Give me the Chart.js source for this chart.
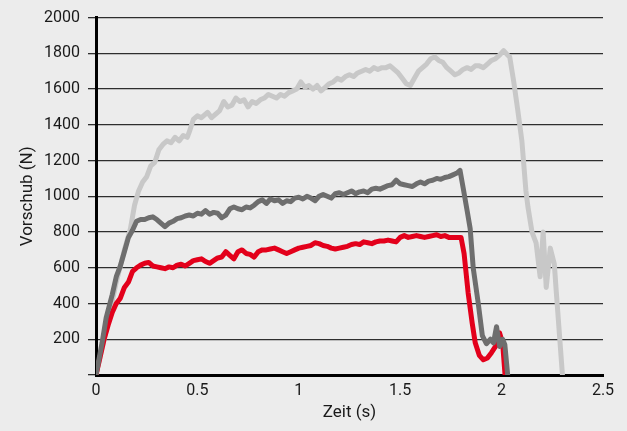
<!DOCTYPE html>
<html>
<head>
<meta charset="utf-8">
<script src="https://cdn.jsdelivr.net/npm/chart.js@4"></script>
<style>
    html, body { margin: 0; padding: 0; background: #ececec; }
    canvas { display: block; }
</style>
</head>
<body>
<canvas id="feedChart" width="627" height="431"></canvas>
<script>
// ── Data (Zeit in s, Vorschub in N) ──

const xTicks = [0, 0.5, 1, 1.5, 2, 2.5];

const lightTime = [
    0, 0.05, 0.10, 0.14, 0.17, 0.19, 0.21, 0.23, 0.25, 0.27, 0.29, 0.31, 0.33, 0.35, 0.37, 0.39,
    0.41, 0.43, 0.45, 0.46, 0.48, 0.50, 0.52, 0.55, 0.57, 0.59, 0.61, 0.63, 0.65, 0.67, 0.69, 0.71,
    0.73, 0.75, 0.77, 0.79, 0.81, 0.83, 0.85, 0.87, 0.89, 0.91, 0.93, 0.95, 0.97, 0.99, 1.01, 1.03,
    1.05, 1.07, 1.09, 1.11, 1.13, 1.15, 1.17, 1.19, 1.21, 1.23, 1.25, 1.27, 1.29, 1.31, 1.33, 1.35,
    1.37, 1.39, 1.41, 1.43, 1.45, 1.47, 1.49, 1.51, 1.53, 1.55, 1.57, 1.59, 1.61, 1.63, 1.65, 1.67,
    1.69, 1.71, 1.73, 1.75, 1.77, 1.79, 1.81, 1.83, 1.85, 1.87, 1.89, 1.91, 1.93, 1.95, 1.97, 1.99,
    2.01, 2.03, 2.04, 2.06, 2.08, 2.10, 2.12, 2.13, 2.15, 2.17, 2.19, 2.205, 2.22, 2.24, 2.26, 2.27, 2.30,
];
const lightForce = [
    0, 250, 520, 700, 820, 950, 1030, 1080, 1110, 1170, 1190, 1260, 1290, 1310, 1300, 1330,
    1310, 1340, 1330, 1360, 1430, 1450, 1440, 1470, 1440, 1460, 1480, 1530, 1500, 1510, 1550, 1530,
    1540, 1500, 1530, 1520, 1540, 1550, 1570, 1560, 1550, 1570, 1560, 1580, 1590, 1600, 1640, 1610,
    1620, 1600, 1620, 1590, 1610, 1630, 1640, 1660, 1650, 1670, 1680, 1670, 1690, 1700, 1710, 1700,
    1720, 1710, 1720, 1720, 1730, 1710, 1690, 1660, 1630, 1620, 1660, 1700, 1720, 1740, 1770, 1780,
    1760, 1750, 1720, 1700, 1680, 1690, 1710, 1720, 1710, 1730, 1730, 1720, 1740, 1760, 1770, 1790,
    1815, 1790, 1780, 1640, 1480, 1310, 1030, 940, 800, 740, 550, 800, 490, 710, 620, 460, 0,
];

const darkTime = [
    0, 0.03, 0.05, 0.08, 0.10, 0.12, 0.14, 0.16, 0.18, 0.20, 0.22, 0.24, 0.26, 0.28, 0.30, 0.32,
    0.34, 0.36, 0.38, 0.40, 0.42, 0.44, 0.46, 0.48, 0.50, 0.52, 0.54, 0.56, 0.58, 0.60, 0.62, 0.64,
    0.66, 0.68, 0.70, 0.72, 0.74, 0.76, 0.78, 0.80, 0.82, 0.84, 0.86, 0.88, 0.90, 0.92, 0.94, 0.96,
    0.98, 1.00, 1.02, 1.04, 1.06, 1.08, 1.10, 1.12, 1.14, 1.16, 1.18, 1.20, 1.22, 1.24, 1.26, 1.28,
    1.30, 1.32, 1.34, 1.36, 1.38, 1.40, 1.42, 1.44, 1.46, 1.48, 1.50, 1.52, 1.54, 1.56, 1.58, 1.60,
    1.62, 1.64, 1.66, 1.68, 1.70, 1.72, 1.74, 1.76, 1.78, 1.795, 1.81, 1.83, 1.845, 1.86, 1.885, 1.905,
    1.925, 1.945, 1.96, 1.975, 1.99, 2.005, 2.016, 2.03,
];
const darkForce = [
    0, 180, 320, 450, 550, 610, 690, 770, 810, 860, 870, 870, 880, 885, 870, 850,
    830, 850, 860, 875, 880, 890, 895, 890, 905, 900, 920, 900, 910, 905, 880, 895,
    930, 940, 930, 925, 940, 935, 950, 970, 980, 960, 985, 975, 980, 960, 975, 970,
    990, 995, 985, 1000, 990, 975, 1000, 1010, 1000, 990, 1015, 1020, 1010, 1020, 1030, 1015,
    1025, 1030, 1020, 1040, 1045, 1040, 1050, 1060, 1065, 1090, 1070, 1065, 1060, 1055, 1070, 1080,
    1070, 1085, 1090, 1100, 1095, 1105, 1110, 1120, 1130, 1145, 1050, 920, 820, 600, 400, 220,
    175, 200, 180, 270, 160, 200, 170, 0,
];

const redTime = [
    0, 0.02, 0.04, 0.06, 0.08, 0.10, 0.12, 0.14, 0.16, 0.18, 0.20, 0.22, 0.24, 0.26, 0.28, 0.30,
    0.32, 0.34, 0.36, 0.38, 0.40, 0.42, 0.44, 0.46, 0.48, 0.50, 0.52, 0.54, 0.56, 0.58, 0.60, 0.62,
    0.64, 0.66, 0.68, 0.70, 0.72, 0.74, 0.76, 0.78, 0.80, 0.82, 0.84, 0.86, 0.88, 0.90, 0.92, 0.94,
    0.96, 0.98, 1.00, 1.02, 1.04, 1.06, 1.08, 1.10, 1.12, 1.14, 1.16, 1.18, 1.20, 1.22, 1.24, 1.26,
    1.28, 1.30, 1.32, 1.34, 1.36, 1.38, 1.40, 1.42, 1.44, 1.46, 1.48, 1.50, 1.52, 1.54, 1.56, 1.58,
    1.60, 1.62, 1.64, 1.66, 1.68, 1.70, 1.72, 1.74, 1.76, 1.78, 1.80, 1.815, 1.835, 1.855, 1.87, 1.89,
    1.91, 1.93, 1.95, 1.97, 1.99, 2.005, 2.017,
];
const redForce = [
    0, 100, 200, 280, 350, 400, 430, 490, 520, 580, 600, 615, 625, 630, 610, 605,
    600, 595, 605, 600, 615, 620, 610, 625, 640, 645, 650, 635, 625, 640, 655, 660,
    690, 670, 650, 690, 700, 680, 675, 660, 690, 700, 700, 705, 710, 700, 690, 680,
    690, 700, 710, 715, 720, 725, 740, 735, 725, 720, 710, 705, 710, 715, 720, 730,
    735, 730, 745, 740, 735, 745, 750, 750, 755, 750, 745, 770, 780, 770, 775, 780,
    775, 770, 775, 780, 785, 775, 780, 770, 770, 770, 770, 680, 460, 290, 180, 110,
    85, 95, 125, 160, 235, 180, 0,
];

// ── Chart ──

const toPoints = (ts, vs) => ts.map((t, i) => ({ x: t, y: vs[i] }));

const bgPlugin = {
    id: "bg",
    beforeDraw(chart) {
        const c = chart.ctx;
        c.save();
        c.fillStyle = "#ececec";
        c.fillRect(0, 0, chart.width, chart.height);
        c.restore();
    },
};

const lineStyle = {
    borderWidth: 5,
    pointRadius: 0,
    tension: 0,
    borderJoinStyle: "round",
    borderCapStyle: "round",
    fill: false,
};

Chart.defaults.font.family = "Roboto, 'DejaVu Sans', sans-serif";
Chart.defaults.color = "#1a1a1a";

new Chart(document.getElementById("feedChart").getContext("2d"), {
    type: "line",
    data: {
        datasets: [
            { label: "dunkelgrau", data: toPoints(darkTime, darkForce), borderColor: "#6e6e6e", ...lineStyle },
            { label: "rot", data: toPoints(redTime, redForce), borderColor: "#e3001b", ...lineStyle },
            { label: "hellgrau", data: toPoints(lightTime, lightForce), borderColor: "#c8c8c8", ...lineStyle },
        ],
    },
    options: {
        responsive: false,
        animation: false,
        layout: { padding: { top: 17, right: 24, left: 0, bottom: 0 } },
        plugins: {
            legend: { display: false },
            tooltip: { enabled: false },
        },
        scales: {
            x: {
                type: "linear",
                min: 0,
                max: 2.5,
                afterBuildTicks: (axis) => { axis.ticks = xTicks.map((v) => ({ value: v })); },
                ticks: {
                    font: { size: 16 },
                    padding: 6,
                    maxRotation: 0,
                    callback: (v) => String(v),
                },
                grid: { display: true, drawOnChartArea: false, drawTicks: false },
                border: { color: "#000", width: 3 },
                title: {
                    display: true,
                    text: "Zeit (s)",
                    font: { size: 17 },
                    padding: { top: 0, bottom: 8 },
                },
                afterFit: (axis) => { axis.height = 56; },
            },
            y: {
                min: 0,
                max: 2000,
                ticks: {
                    stepSize: 200,
                    font: { size: 16 },
                    padding: 8,
                    callback: (v) => (v === 0 ? "" : v),
                },
                grid: { color: "#2e2e2e", lineWidth: 1.3, tickLength: 8 },
                border: { color: "#000", width: 3 },
                title: {
                    display: true,
                    text: "Vorschub (N)",
                    font: { size: 17 },
                    padding: { top: 18, bottom: 0 },
                },
                afterFit: (axis) => { axis.width = 96; },
            },
        },
    },
    plugins: [bgPlugin],
});
</script>
</body>
</html>
